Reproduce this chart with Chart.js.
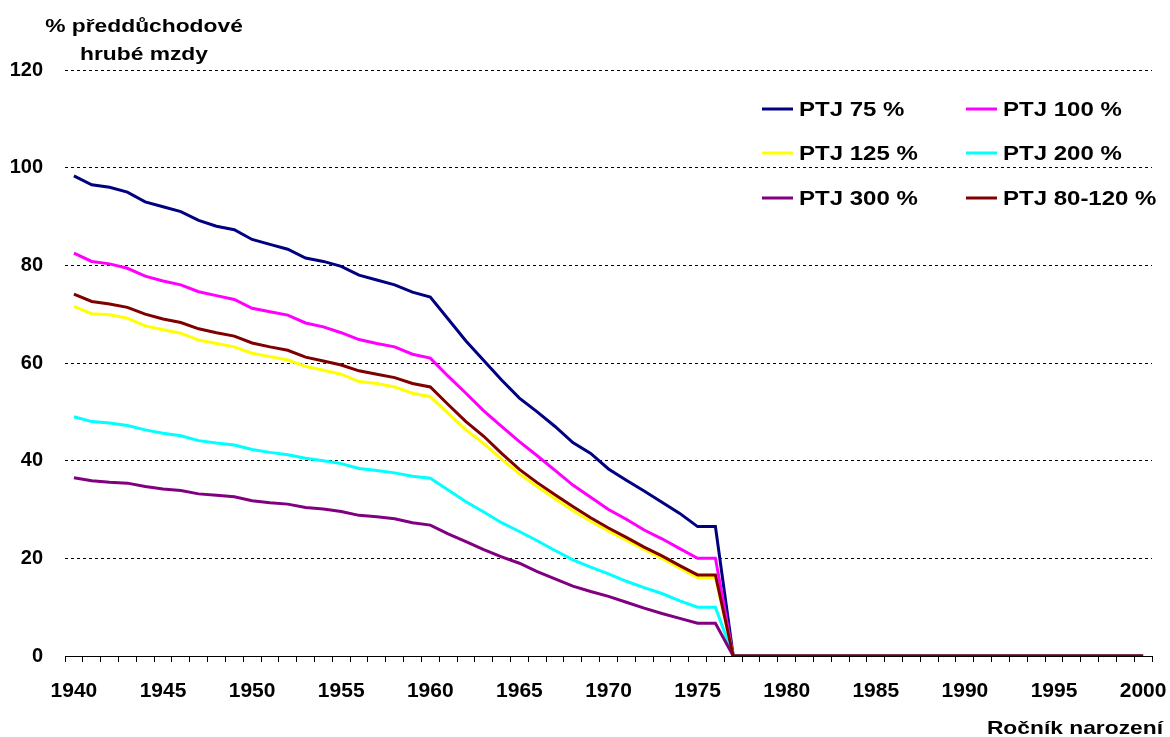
<!DOCTYPE html>
<html>
<head>
<meta charset="utf-8">
<script src="https://cdn.jsdelivr.net/npm/chart.js@4/dist/chart.umd.min.js"></script>
<style>
  html, body { margin: 0; padding: 0; background: #fff; }
  canvas { display: block; }
</style>
</head>
<body>
<canvas id="c" width="1170" height="737"></canvas>
<script>
const years = [1940,1941,1942,1943,1944,1945,1946,1947,1948,1949,1950,1951,1952,1953,1954,1955,1956,1957,1958,1959,1960,1961,1962,1963,1964,1965,1966,1967,1968,1969,1970,1971,1972,1973,1974,1975,1976,1977,1978,1979,1980,1981,1982,1983,1984,1985,1986,1987,1988,1989,1990,1991,1992,1993,1994,1995,1996,1997,1998,1999,2000];

const yTicks = [0, 20, 40, 60, 80, 100, 120];

const seriesNames = ["PTJ 75 %", "PTJ 100 %", "PTJ 125 %", "PTJ 200 %", "PTJ 300 %", "PTJ 80-120 %"];

const ptj75 = [98.3,96.5,96.0,95.0,93.0,92.0,91.0,89.2,88.0,87.3,85.3,84.3,83.3,81.5,80.8,79.8,78.0,77.0,76.0,74.5,73.5,69.0,64.5,60.5,56.5,52.8,50.0,47.0,43.7,41.5,38.3,36.0,33.8,31.5,29.2,26.5,26.5,0,0,0,0,0,0,0,0,0,0,0,0,0,0,0,0,0,0,0,0,0,0,0,0,0,0];
const ptj100 = [82.5,80.8,80.3,79.4,77.8,76.8,76.0,74.6,73.8,73.0,71.2,70.5,69.8,68.2,67.4,66.2,64.8,64.0,63.3,61.8,61.0,57.3,53.8,50.2,47.0,43.9,41.0,38.0,35.0,32.5,30.0,28.0,25.8,24.0,22.0,20.0,20.0,0,0,0,0,0,0,0,0,0,0,0,0,0,0,0,0,0,0,0,0,0,0,0,0,0,0];
const ptj125 = [71.6,70.1,69.9,69.2,67.6,66.8,66.1,64.7,64.0,63.3,62.0,61.3,60.6,59.3,58.5,57.7,56.2,55.8,55.1,53.8,53.1,49.7,46.3,43.5,40.3,37.3,34.7,32.2,29.8,27.6,25.6,23.7,21.8,20.0,18.0,16.1,16.1,0,0,0,0,0,0,0,0,0,0,0,0,0,0,0,0,0,0,0,0,0,0,0,0,0,0];
const ptj200 = [49.0,48.0,47.7,47.2,46.3,45.6,45.1,44.1,43.6,43.2,42.3,41.7,41.2,40.5,40.0,39.4,38.4,38.0,37.5,36.8,36.4,34.0,31.6,29.5,27.3,25.5,23.6,21.6,19.7,18.2,16.8,15.3,14.0,12.8,11.3,10.0,10.0,0,0,0,0,0,0,0,0,0,0,0,0,0,0,0,0,0,0,0,0,0,0,0,0,0,0];
const ptj300 = [36.5,35.9,35.6,35.4,34.7,34.2,33.9,33.2,32.9,32.6,31.8,31.4,31.1,30.4,30.1,29.6,28.8,28.5,28.1,27.3,26.8,25.0,23.4,21.8,20.3,19.0,17.3,15.8,14.3,13.2,12.2,11.0,9.8,8.7,7.7,6.7,6.7,0,0,0,0,0,0,0,0,0,0,0,0,0,0,0,0,0,0,0,0,0,0,0,0,0,0];
const ptj80_120 = [74.1,72.6,72.1,71.4,70.0,69.0,68.3,67.0,66.2,65.5,64.1,63.3,62.6,61.2,60.4,59.6,58.4,57.7,57.0,55.8,55.1,51.5,48.0,45.0,41.5,38.2,35.5,33.0,30.6,28.3,26.2,24.3,22.3,20.5,18.5,16.6,16.6,0,0,0,0,0,0,0,0,0,0,0,0,0,0,0,0,0,0,0,0,0,0,0,0,0,0];

const seriesData = [ptj75, ptj100, ptj125, ptj200, ptj300, ptj80_120];
const seriesColors = ["#000080", "#FF00FF", "#FFFF00", "#00FFFF", "#800080", "#800000"];

const FONT = '"Liberation Sans", Arial, sans-serif';

const datasets = seriesNames.map((name, i) => ({
  label: name,
  data: seriesData[i],
  borderColor: seriesColors[i],
  backgroundColor: seriesColors[i],
  borderWidth: 3,
  pointRadius: 0,
  tension: 0,
  fill: false,
  order: seriesNames.length - i
}));

function stretchedText(ctx, text, x, y, align, stretch) {
  ctx.save();
  const w = ctx.measureText(text).width * stretch;
  let left = x;
  if (align === 'center') left = x - w / 2;
  else if (align === 'right') left = x - w;
  ctx.translate(left, y);
  ctx.scale(stretch, 1);
  ctx.textAlign = 'left';
  ctx.fillText(text, 0, 0);
  ctx.restore();
}

const decorPlugin = {
  id: 'decor',
  afterDraw(chart) {
    const ctx = chart.ctx;
    ctx.save();
    ctx.fillStyle = '#000';
    ctx.textBaseline = 'alphabetic';
    ctx.font = 'bold 19px ' + FONT;
    stretchedText(ctx, '% předdůchodové', 144, 32, 'center', 1.2);
    stretchedText(ctx, 'hrubé mzdy', 144, 60, 'center', 1.2);
    stretchedText(ctx, 'Ročník narození', 1163, 734, 'right', 1.2);
    const colX = [762, 966];
    const rowY = [109, 153, 198];
    ctx.font = 'bold 20px ' + FONT;
    chart.data.datasets.forEach((ds, i) => {
      const cx = colX[i % 2];
      const cy = rowY[Math.floor(i / 2)];
      ctx.strokeStyle = ds.borderColor;
      ctx.lineWidth = 3;
      ctx.beginPath();
      ctx.moveTo(cx, cy);
      ctx.lineTo(cx + 31, cy);
      ctx.stroke();
      ctx.textBaseline = 'middle';
      stretchedText(ctx, ds.label, cx + 37, cy + 1, 'left', 1.2);
    });
    ctx.restore();
  }
};

new Chart(document.getElementById('c'), {
  type: 'line',
  data: { labels: years.map(String), datasets },
  plugins: [decorPlugin],
  options: {
    responsive: false,
    animation: false,
    devicePixelRatio: 1,
    layout: { padding: { left: 0, top: 70, right: 18, bottom: 0 } },
    plugins: { legend: { display: false }, tooltip: { enabled: false }, title: { display: false } },
    scales: {
      x: {
        type: 'category',
        offset: true,
        grid: { offset: true, drawOnChartArea: false, drawTicks: true, tickLength: 6, color: '#000', lineWidth: 1 },
        border: { display: true, color: '#000', width: 1 },
        ticks: {
          autoSkip: false, maxRotation: 0, minRotation: 0,
          color: '#000', font: { family: FONT, size: 21, weight: 'bold' }, padding: 17,
          callback: function (v, i) { return years[i] % 5 === 0 ? String(years[i]) : ''; }
        },
        afterFit(scale) { scale.height = 81; scale.paddingRight = 0; scale.paddingLeft = 0; }
      },
      y: {
        min: 0, max: 120,
        afterBuildTicks(scale) { scale.ticks = yTicks.map(v => ({ value: v })); },
        grid: {
          drawTicks: false,
          color: (c) => (c.tick && c.tick.value === 0) ? 'rgba(0,0,0,0)' : '#000',
          lineWidth: 1
        },
        border: { display: false, dash: [3, 3] },
        ticks: { color: '#000', font: { family: FONT, size: 20, weight: 'bold' }, padding: 22 },
        afterFit(scale) { scale.width = 65; scale.paddingTop = 0; scale.paddingBottom = 0; }
      }
    }
  }
});
</script>
</body>
</html>
